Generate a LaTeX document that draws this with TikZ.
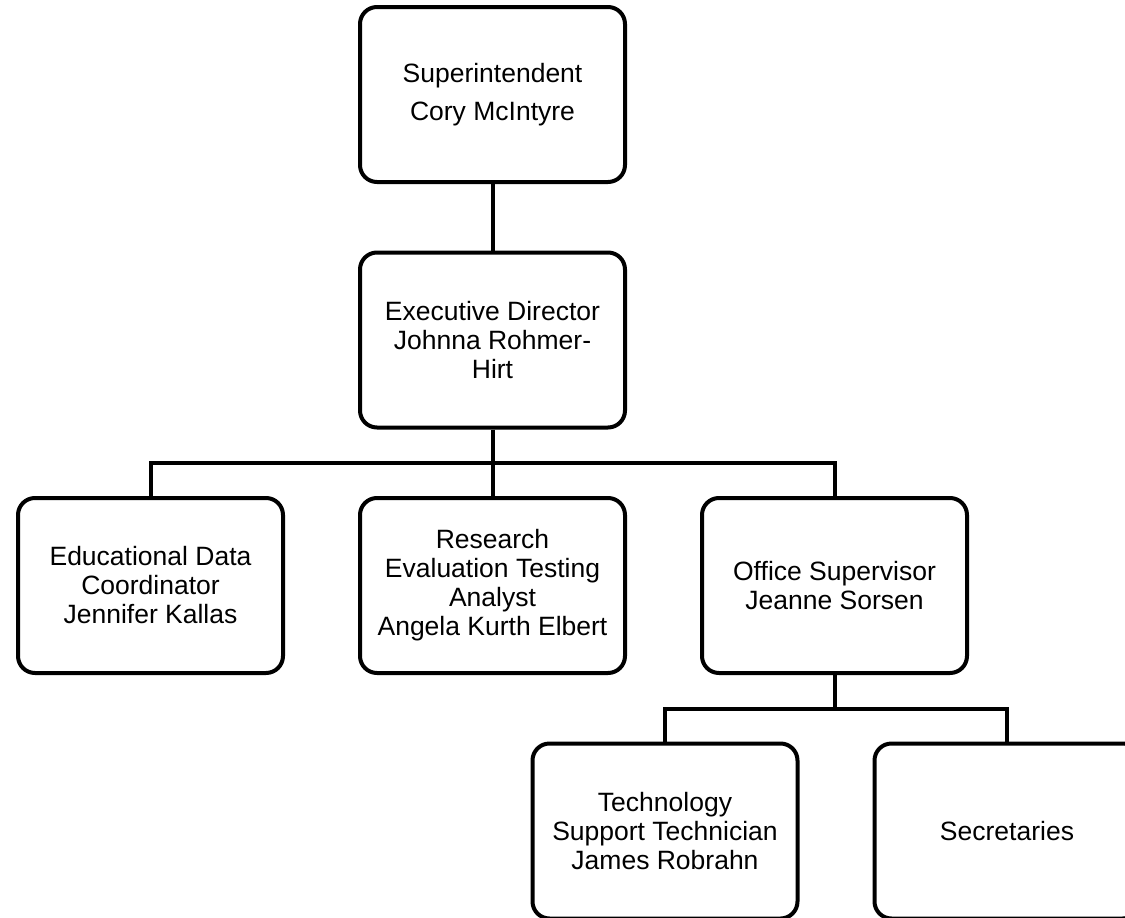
\documentclass[tikz,border=0pt]{standalone}
\usepackage{fontspec}
\setmainfont{Liberation Sans}
\begin{document}
\begin{tikzpicture}[x=1pt,y=-1pt,
		post/.style={draw,line width=4pt,rounded corners=17pt,minimum width=265pt,minimum height=175pt,align=center,font=\fontsize{26.5}{29}\selectfont},
		link/.style={line width=4pt}]
	\useasboundingbox (0,0) rectangle (1125,918);
	\node[post] (sup) at (492.5,94.5){Superintendent\\[9pt]Cory McIntyre};
	\node[post] (exd) at (492.5,340){Executive Director\\Johnna Rohmer-\\Hirt};
	\node[post] (edu) at (150.5,585.5){Educational Data\\Coordinator\\Jennifer Kallas};
	\node[post] (res) at (492.5,585.5){Research\\Evaluation Testing\\Analyst\\Angela Kurth Elbert};
	\node[post] (off) at (834.5,585.5){Office Supervisor\\Jeanne Sorsen};
	\node[post] (tec) at (665,831){Technology\\Support Technician\\James Robrahn};
	\node[post] (sec) at (1007,831){Secretaries};
	\coordinate (b1) at (492.5,463);
	\coordinate (b2) at (834.5,709);
	\draw[link] (sup) to (exd);
	\draw[link] (exd) to (b1);
	\foreach\x in {edu,res,off}{
		\draw[link] (b1) -| (\x.north);
	}
	\draw[link] (off) to (b2);
	\foreach\x in {tec,sec}{
		\draw[link] (b2) -| (\x.north);
	}
\end{tikzpicture}
\end{document}
